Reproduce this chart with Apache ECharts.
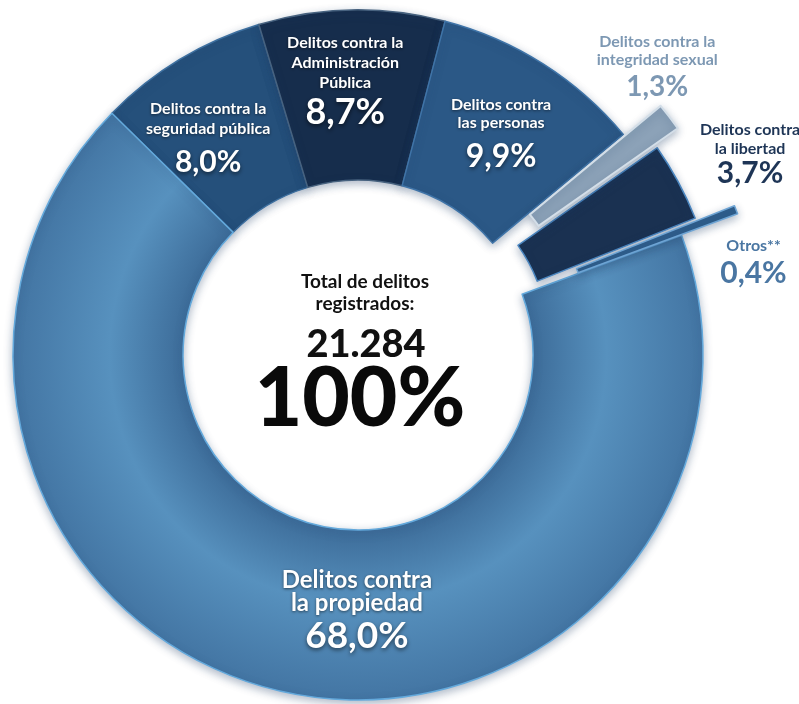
<!DOCTYPE html>
<html lang="es">
<head>
    <meta charset="UTF-8"/>
    <title>Total de delitos registrados</title>
    <script src="https://cdn.jsdelivr.net/npm/echarts@6/dist/echarts.min.js"></script>
    <style>
        html, body { margin: 0; padding: 0; background: #fff; }
        #chart { width: 799px; height: 704px; }
    </style>
</head>
<body>
<div id="chart"></div>
<script type="text/javascript">
    // datos del gráfico
    var categories = [
        'Delitos contra la\nseguridad pública',
        'Delitos contra la\nAdministración\nPública',
        'Delitos contra\nlas personas',
        'Delitos contra la\nintegridad sexual',
        'Delitos contra\nla libertad',
        'Otros**',
        'Delitos contra\nla propiedad'
    ];
    var values = [8.0, 8.7, 9.9, 1.3, 3.7, 0.4, 68.0];
    var pctLabels = ['8,0%', '8,7%', '9,9%', '1,3%', '3,7%', '0,4%', '68,0%'];
    var totalLabel = '21.284';
    var totalPct = '100%';

    // estilos por porción
    var sliceColors = ['#25507b', '#162d4c', '#2b5886', '#8ca2b8', '#1a3151', '#2f5e8c', null];
    var sliceBorders = ['#3d6f9f', '#47627f', '#3f74a8', '#d3dee8', '#4a86c0', '#6ea4d4', '#63a9dc'];
    var titleSize = [16, 16, 16, 16, 16, 16, 24];
    var titleLH = [20, 20, 18, 18, 19, 20, 23];
    var pctSize = [30, 36, 32, 28, 30, 30, 37];
    var pctLH = [48, 38, 50, 36, 30, 34, 42];
    var textColor = ['#fff', '#fff', '#fff', '#7d98b3', '#1e3556', '#4a76a2', '#fff'];
    // desplazamiento de las etiquetas
    var labelShift = [[-14, 13], [-8, -10], [2, 6], [53, -98], [144, -67], [94, 24], [54, 1]];
    // grupos de porciones separadas
    var groups = [
        {items: [0, 1, 2, 6], offset: 0},
        {items: [4], offset: 19},
        {items: [3], offset: 47},
        {items: [5], offset: 60}
    ];

    var propGradient = new echarts.graphic.RadialGradient(358, 355, 345, [
        {offset: 0.5, color: '#3c6b98'},
        {offset: 0.72, color: '#5791be'},
        {offset: 1, color: '#4375a3'}
    ], true);

    var chart = echarts.init(document.getElementById('chart'));

    function buildSeries(g) {
        var data = values.map(function (v, i) {
            var own = g.items.indexOf(i) >= 0;
            if (!own) {
                return {
                    value: v, name: categories[i],
                    itemStyle: {color: 'rgba(0,0,0,0)', borderWidth: 0, shadowBlur: 0},
                    label: {show: false}
                };
            }
            var ts = titleSize[i], ps = pctSize[i];
            var shadow = textColor[i] === '#fff' ? 'rgba(0,0,0,0.55)' : 'transparent';
            return {
                value: v, name: categories[i],
                selected: g.offset > 0,
                itemStyle: {
                    color: sliceColors[i] || propGradient,
                    borderColor: sliceBorders[i],
                    borderWidth: i === 3 ? 2 : 1.5,
                    shadowColor: 'rgba(30,60,100,0.35)',
                    shadowBlur: 8,
                    shadowOffsetY: 3
                },
                label: {
                    show: true,
                    position: 'inside',
                    formatter: function () {
                        var lines = categories[i].split('\n').map(function (l) {
                            return '{t|' + l + '}';
                        });
                        return lines.join('\n') + '\n{p|' + pctLabels[i] + '}';
                    },
                    rich: {
                        t: {
                            fontFamily: 'Lato', fontWeight: 'bold', fontSize: ts,
                            lineHeight: titleLH[i], color: textColor[i], align: 'center',
                            textShadowColor: shadow, textShadowBlur: 3, textShadowOffsetY: 1
                        },
                        p: {
                            fontFamily: 'Lato', fontWeight: 'bold', fontSize: ps,
                            lineHeight: pctLH[i], color: textColor[i], align: 'center',
                            textShadowColor: shadow, textShadowBlur: 4, textShadowOffsetY: 2
                        }
                    }
                }
            };
        });
        return {
            type: 'pie',
            center: [358, 355],
            radius: [175, 345],
            startAngle: 135.5,
            clockwise: true,
            silent: true,
            animation: false,
            avoidLabelOverlap: false,
            selectedMode: 'multiple',
            selectedOffset: g.offset,
            labelLine: {show: false},
            labelLayout: function (params) {
                var s = labelShift[params.dataIndex];
                return {dx: s[0], dy: s[1]};
            },
            data: data
        };
    }

    var option = {
        backgroundColor: '#ffffff',
        series: groups.map(buildSeries),
        graphic: [
            {
                type: 'text', x: 365, y: 271,
                style: {
                    text: 'Total de delitos\nregistrados:', textAlign: 'center',
                    font: 'bold 19px Lato', lineHeight: 22, fill: '#111'
                }
            },
            {
                type: 'text', x: 366, y: 345,
                style: {
                    text: totalLabel, textAlign: 'center', textVerticalAlign: 'middle',
                    font: '900 38px Lato', fill: '#111',
                    shadowColor: 'rgba(0,0,0,0.3)', shadowBlur: 10, shadowOffsetX: 4
                }
            },
            {
                type: 'text', x: 360, y: 400,
                style: {
                    text: totalPct, textAlign: 'center', textVerticalAlign: 'middle',
                    font: '900 82px Lato', fill: '#0a0a0a',
                    shadowColor: 'rgba(0,0,0,0.35)', shadowBlur: 14, shadowOffsetX: 6, shadowOffsetY: 2
                }
            }
        ]
    };

    chart.setOption(option);
</script>
</body>
</html>
